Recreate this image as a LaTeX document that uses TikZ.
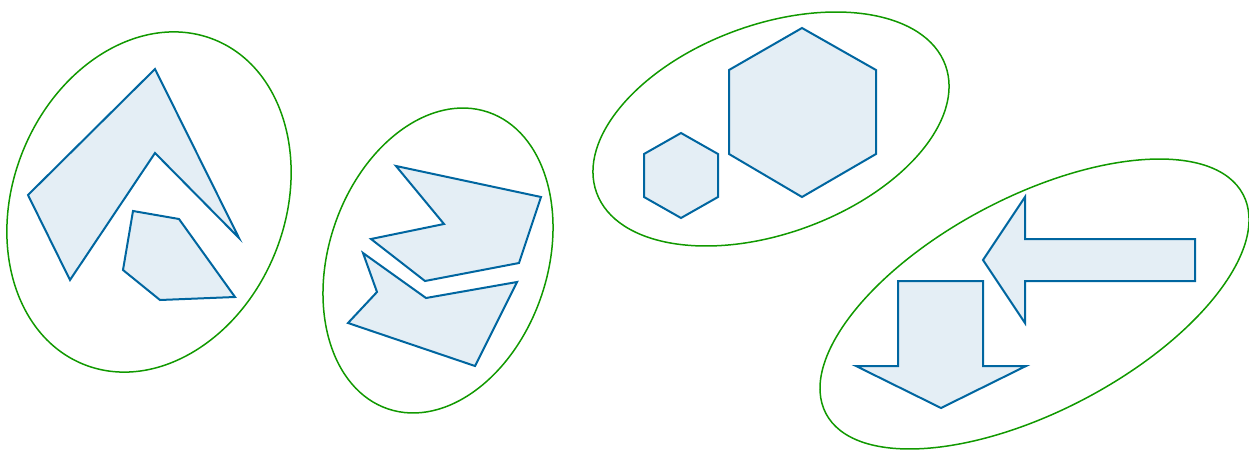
\documentclass[tikz,border=0pt]{standalone}
\definecolor{shapeblue}{RGB}{0,102,160}
\definecolor{shapefill}{RGB}{228,238,245}
\definecolor{groupgreen}{RGB}{17,153,0}
\tikzset{
  poly/.style={draw=shapeblue, fill=shapefill, line width=2pt, line join=miter},
  group/.style={draw=groupgreen, line width=1.5pt},
}
\begin{document}
\begin{tikzpicture}[x=1pt,y=-1pt]
\useasboundingbox (0,0) rectangle (1249,450);
% group 1
\draw[group, rotate around={68:(149,202)}] (149,202) ellipse [x radius=175, y radius=136];
\draw[poly] (28,195) -- (155,69) -- (239,238) -- (155,153) -- (70,280) -- cycle;
\draw[poly] (133,211) -- (179,219) -- (235,297) -- (160,300) -- (123,270) -- cycle;
% group 2
\draw[group, rotate around={71.4:(438,260.5)}] (438,260.5) ellipse [x radius=156.6, y radius=109.3];
\draw[poly] (396,166) -- (541,197) -- (519,263) -- (425,281) -- (371,239) -- (444,224) -- cycle;
\draw[poly] (363,253) -- (426,298) -- (517,282) -- (475,366) -- (348,323) -- (377,292) -- cycle;
% group 3
\draw[group, rotate around={20.1:(771,129)}] (771,129) ellipse [x radius=185.7, y radius=104.4];
\draw[poly] (802,28) -- (876,70) -- (876,154) -- (802,197) -- (729,154) -- (729,70) -- cycle;
\draw[poly] (681,133) -- (718,154) -- (718,197) -- (681,218) -- (644,197) -- (644,154) -- cycle;
% group 4
\draw[group, rotate around={27.7:(1034.5,304)}] (1034.5,304) ellipse [x radius=235.6, y radius=107.3];
\draw[poly] (983,260) -- (1025,197) -- (1025,239) -- (1195,239) -- (1195,281) -- (1025,281) -- (1025,323) -- cycle;
\draw[poly] (898,281) -- (983,281) -- (983,366) -- (1026,366) -- (941,408) -- (856,366) -- (898,366) -- cycle;
\end{tikzpicture}
\end{document}
